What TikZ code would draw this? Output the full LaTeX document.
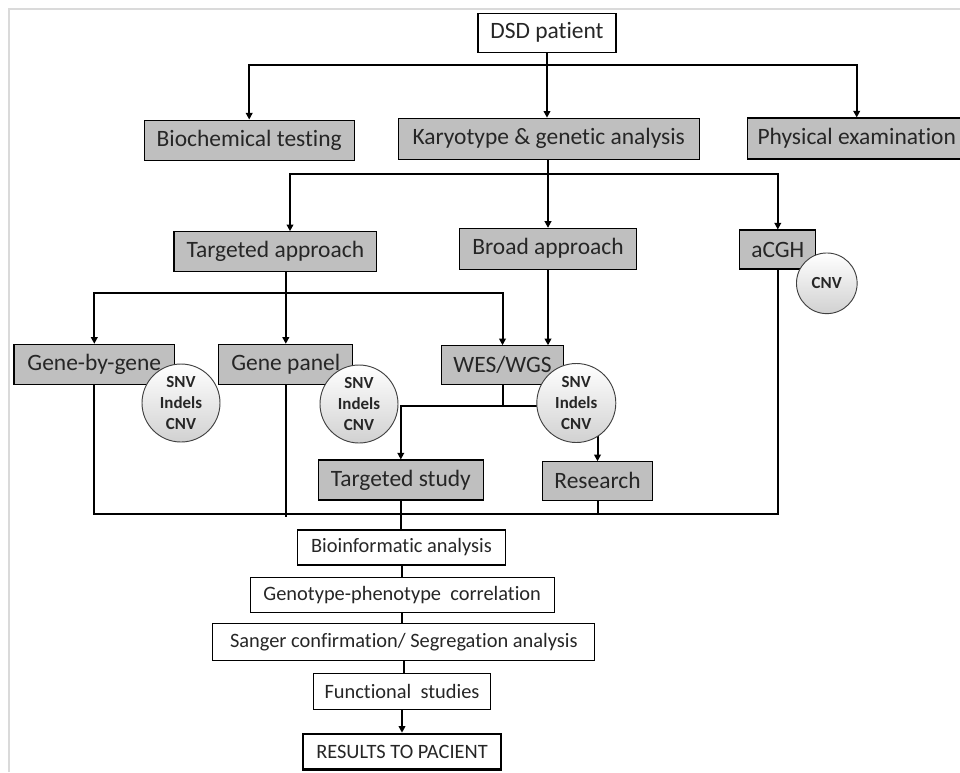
\documentclass[tikz,border=0pt]{standalone}
\usepackage{fontspec}
\setmainfont{Carlito}[Ligatures=NoCommon]
\usetikzlibrary{arrows.meta}
\pgfdeclarelayer{background}
\pgfsetlayers{background,main}

\definecolor{boxgray}{RGB}{191,191,191}
\definecolor{framegray}{RGB}{218,218,218}
\definecolor{inkgray}{RGB}{38,38,38}

\tikzset{
  graybox/.style={draw=black, line width=0.8pt, fill=boxgray, inner sep=0pt,
    text=inkgray, font=\fontsize{17.6}{21}\selectfont},
  whitebox/.style={draw=black, line width=0.8pt, fill=white, inner sep=0pt,
    text=inkgray, font=\fontsize{15.3}{18}\selectfont},
  varcircle/.style={circle, draw=black!75, line width=0.7pt, top color=white,
    bottom color=black!18, inner sep=0pt, align=center, text=inkgray,
    font=\bfseries\fontsize{12.7}{16.1}\selectfont},
  link/.style={line width=1.5pt, black},
  arrowlink/.style={link, -{Triangle[length=5pt,width=5pt]}},
}

\begin{document}
\begin{tikzpicture}[x=0.75pt,y=-0.75pt]
\useasboundingbox (0,0) rectangle (960,772);
\clip (0,0) rectangle (960,772);

% thin outer frame
\draw[framegray, line width=1.5pt] (9,772) -- (9,9) -- (961,9);

% ---------- boxes ----------
\node[whitebox, font=\fontsize{17.6}{21}\selectfont, minimum width=103.5pt, minimum height=29.25pt] (dsd) at (547,32.7) {DSD patient};

\node[graybox, minimum width=157.7pt, minimum height=30.5pt] (bio) at (249.2,140.4) {Biochemical testing};
\node[graybox, minimum width=225.5pt, minimum height=30.75pt] (karyo) at (548.7,138.7) {Karyotype \& genetic analysis};
\node[graybox, minimum width=164.25pt, minimum height=30.75pt] (phys) at (856.7,138.5) {Physical examination};

\node[graybox, minimum width=152pt, minimum height=30pt] (tappr) at (275.3,251.7) {Targeted approach};
\node[graybox, minimum width=133pt, minimum height=30.5pt] (bappr) at (548,248.7) {Broad approach};
\node[graybox, minimum width=56.8pt, minimum height=29.25pt] (acgh) at (777.8,249.5) {aCGH};

\node[graybox, minimum width=120.5pt, minimum height=30pt] (gbg) at (94.3,364.3) {Gene-by-gene};
\node[graybox, minimum width=100.3pt, minimum height=29.8pt] (gpanel) at (285.8,364.2) {Gene panel};
\node[graybox, minimum width=91.2pt, minimum height=28.7pt] (wes) at (502.5,364.9) {WES/WGS};

\node[graybox, minimum width=123.75pt, minimum height=30pt] (tstudy) at (400.8,480) {Targeted study};
\node[graybox, minimum width=82.8pt, minimum height=28.7pt] (research) at (597.5,480.9) {Research};

\node[whitebox, minimum width=156.3pt, minimum height=26.25pt] (bioinf) at (401.5,547.5) {Bioinformatic analysis};
\node[whitebox, minimum width=228.2pt, minimum height=26.5pt] (genopheno) at (402.2,595) {Genotype-phenotype\ \ correlation};
\node[whitebox, minimum width=286.7pt, minimum height=28pt] (sanger) at (403.8,642) {Sanger confirmation/ Segregation analysis};
\node[whitebox, minimum width=133pt, minimum height=27pt] (func) at (402,691.3) {Functional\ \ studies};
\node[whitebox, line width=2pt, minimum width=148.5pt, minimum height=26.5pt] (results) at (402,751.7) {RESULTS TO PACIENT};

% ---------- variant-type badges ----------
\node[varcircle, minimum size=58.5pt] (gbgvar) at (181,403) {SNV\\Indels\\CNV};
\node[varcircle, minimum size=58.5pt] (gpvar) at (359,404) {SNV\\Indels\\CNV};
\node[varcircle, minimum size=59.25pt] (wesvar) at (576.3,403) {SNV\\Indels\\CNV};
\node[varcircle, minimum size=45.5pt] (acghvar) at (826.8,283.3) {CNV};

% ---------- connectors ----------
\begin{pgfonlayer}{background}
  % patient to first-line work-up
  \coordinate (j1) at (547,65);
  \draw[arrowlink] (dsd.south) -- (j1) -| (bio.north);
  \draw[arrowlink] (j1) -| (phys.north);
  \draw[arrowlink] (j1) -- (j1 |- karyo.north);

  % genetic analysis branches
  \coordinate (j2) at (548,174);
  \coordinate (tin) at (290,0);
  \draw[arrowlink] (j2 |- karyo.south) -- (j2) -- (j2 |- bappr.north);
  \draw[arrowlink] (j2) -| (tin |- tappr.north);
  \draw[arrowlink] (j2) -| (acgh.north);

  % targeted approach
  \coordinate (j3) at (285.8,293.3);
  \draw[arrowlink] (gpanel.north |- tappr.south) -- (gpanel.north);
  \draw[arrowlink] (j3) -| (gbg.north);
  \draw[arrowlink] (j3) -| (wes.north);

  % broad approach
  \draw[arrowlink] (bappr.south) -- (bappr.south |- wes.north);

  % WES/WGS outcomes
  \coordinate (j4) at (502.5,406);
  \draw[link] (wes.south) -- (j4) -- (wesvar.center |- j4);
  \draw[arrowlink] (j4) -| (tstudy.north);
  \draw[arrowlink] (wesvar.center -| research.north) -- (research.north);

  % collecting line
  \coordinate (j5) at (0,514);
  \draw[link] (gbg.south) -- (gbg.south |- j5) -- (acgh.south |- j5) -- (acgh.south);
  \draw[link] (gpanel.south) -- ([yshift=-2pt]gpanel.south |- j5);
  \draw[link] (research.south) -- (research.south |- j5);

  % analysis chain
  \draw[link] (tstudy.south) -- (tstudy.south |- bioinf.north);
  \draw[link] (bioinf.south) -- (bioinf.south |- genopheno.north);
  \draw[link] (genopheno.south) -- (genopheno.south |- sanger.north);
  \draw[link] (sanger.south) -- (sanger.south |- func.north);
  \draw[arrowlink] (func.south) -- (func.south |- results.north);
\end{pgfonlayer}
\end{tikzpicture}
\end{document}
